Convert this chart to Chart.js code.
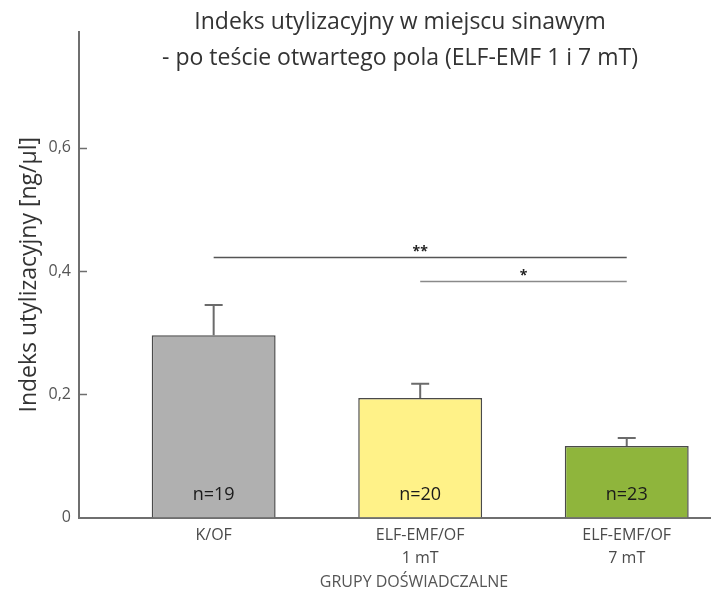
<!DOCTYPE html>
<html>
<head>
<meta charset="utf-8">
<title>Indeks utylizacyjny w miejscu sinawym</title>
<script src="https://cdn.jsdelivr.net/npm/chart.js@4.4.1/dist/chart.umd.min.js"></script>
<style>
  html, body { margin: 0; padding: 0; background: #ffffff; }
  #wrap { width: 711px; height: 592px; position: relative; }
</style>
</head>
<body>
<div id="wrap"><canvas id="chart" width="711" height="592"></canvas></div>
<script>
// Groups, means (ng/µl), error bars and group sizes
const groupLabels = [["K/OF"], ["ELF-EMF/OF", "1 mT"], ["ELF-EMF/OF", "7 mT"]];
const meanValues = [0.296, 0.194, 0.116];
const errorValues = [0.049, 0.023, 0.013];
const groupSizes = [19, 20, 23];
const barColors = ["#b0b0b0", "#fff288", "#8fb53c"];

// Y axis ticks and their Polish-format labels
const yTickValues = [0, 0.2, 0.4, 0.6];
const yTickLabels = ["0", "0,2", "0,4", "0,6"];

// Significance brackets: compared groups, bracket height (ng/µl), marker
const bracketFrom = [0, 1];
const bracketTo = [2, 2];
const bracketLevel = [0.423, 0.3836];
const bracketMark = ["**", "*"];

const titleLines = ["Indeks utylizacyjny w miejscu sinawym", "- po teście otwartego pola (ELF-EMF 1 i 7 mT)"];
const xAxisTitle = "GRUPY DOŚWIADCZALNE";
const yAxisTitle = "Indeks utylizacyjny [ng/µl]";

const FONT = "'Open Sans', 'Noto Sans', sans-serif";

const annotations = {
  id: "annotations",
  afterDatasetsDraw(chart) {
    const ctx = chart.ctx;
    const xs = chart.scales.x;
    const ys = chart.scales.y;
    const meta = chart.getDatasetMeta(0);
    ctx.save();

    // inner tick marks on the y axis
    ctx.strokeStyle = "#6e6e6e";
    ctx.lineWidth = 1.5;
    yTickValues.forEach(v => {
      if (v === 0) return;
      const y = Math.round(ys.getPixelForValue(v)) + 0.5;
      ctx.beginPath();
      ctx.moveTo(xs.left, y);
      ctx.lineTo(xs.left + 8, y);
      ctx.stroke();
    });

    // error bars
    ctx.strokeStyle = "#6b6b6b";
    ctx.lineWidth = 2;
    meta.data.forEach((bar, i) => {
      const x = bar.x;
      const yTop = ys.getPixelForValue(meanValues[i] + errorValues[i]);
      ctx.beginPath();
      ctx.moveTo(x, bar.y);
      ctx.lineTo(x, yTop);
      ctx.moveTo(x - 9, yTop);
      ctx.lineTo(x + 9, yTop);
      ctx.stroke();
    });

    // group sizes inside bars
    ctx.fillStyle = "#1a1a1a";
    ctx.font = "18px " + FONT;
    ctx.textAlign = "center";
    ctx.textBaseline = "middle";
    meta.data.forEach((bar, i) => {
      ctx.fillText("n=" + groupSizes[i], bar.x, ys.getPixelForValue(0) - 23);
    });

    // significance brackets
    bracketLevel.forEach((lvl, k) => {
      const x1 = xs.getPixelForValue(bracketFrom[k]);
      const x2 = xs.getPixelForValue(bracketTo[k]);
      const y = Math.round(ys.getPixelForValue(lvl)) + 0.5;
      ctx.strokeStyle = k === 0 ? "#555555" : "#8a8a8a";
      ctx.lineWidth = 1.5;
      ctx.beginPath();
      ctx.moveTo(x1, y);
      ctx.lineTo(x2, y);
      ctx.stroke();
      ctx.fillStyle = "#222222";
      ctx.font = "bold 14px " + FONT;
      ctx.fillText(bracketMark[k], (x1 + x2) / 2, y - 5);
    });

    // title
    ctx.fillStyle = "#333333";
    ctx.font = "23px " + FONT;
    ctx.fillText(titleLines[0], 400, 22);
    ctx.fillText(titleLines[1], 400, 58);

    // x axis title
    ctx.fillStyle = "#555555";
    ctx.font = "16px " + FONT;
    ctx.fillText(xAxisTitle, 414, 582);

    ctx.restore();
  }
};

new Chart(document.getElementById("chart"), {
  type: "bar",
  data: {
    datasets: [{
      data: meanValues.map((v, i) => ({ x: i, y: v })),
      backgroundColor: barColors,
      borderColor: "#4a4a4a",
      borderWidth: 1.5,
      borderSkipped: "bottom",
      categoryPercentage: 0.6,
      barPercentage: 1.0
    }]
  },
  options: {
    responsive: false,
    animation: false,
    devicePixelRatio: 1,
    layout: { padding: { top: 32, right: 0, left: 0, bottom: 0 } },
    plugins: {
      legend: { display: false },
      tooltip: { enabled: false },
      title: { display: false }
    },
    scales: {
      x: {
        type: "linear",
        offset: false,
        min: -0.652,
        max: 2.408,
        afterBuildTicks: s => { s.ticks = groupLabels.map((_, i) => ({ value: i })); },
        afterFit: s => { s.height = 74.5; },
        grid: { display: false, drawTicks: false, offset: false },
        border: { display: true, color: "#6f6f6f", width: 2 },
        ticks: {
          autoSkip: false,
          maxRotation: 0,
          padding: 6,
          color: "#4a4a4a",
          font: { family: FONT, size: 16, lineHeight: 1.45 },
          callback: (v) => groupLabels[v]
        }
      },
      y: {
        min: 0,
        max: 0.788,
        afterBuildTicks: s => { s.ticks = yTickValues.map(v => ({ value: v })); },
        afterFit: s => { s.width = 79; },
        grid: { display: false, drawTicks: false },
        border: { display: true, color: "#6f6f6f", width: 2 },
        ticks: {
          padding: 8,
          color: "#555555",
          font: { family: FONT, size: 16 },
          callback: (v) => yTickLabels[yTickValues.indexOf(v)]
        },
        title: {
          display: true,
          text: yAxisTitle,
          color: "#333333",
          font: { family: FONT, size: 23 },
          padding: { top: 16, bottom: 0 }
        }
      }
    }
  },
  plugins: [annotations]
});
</script>
</body>
</html>
